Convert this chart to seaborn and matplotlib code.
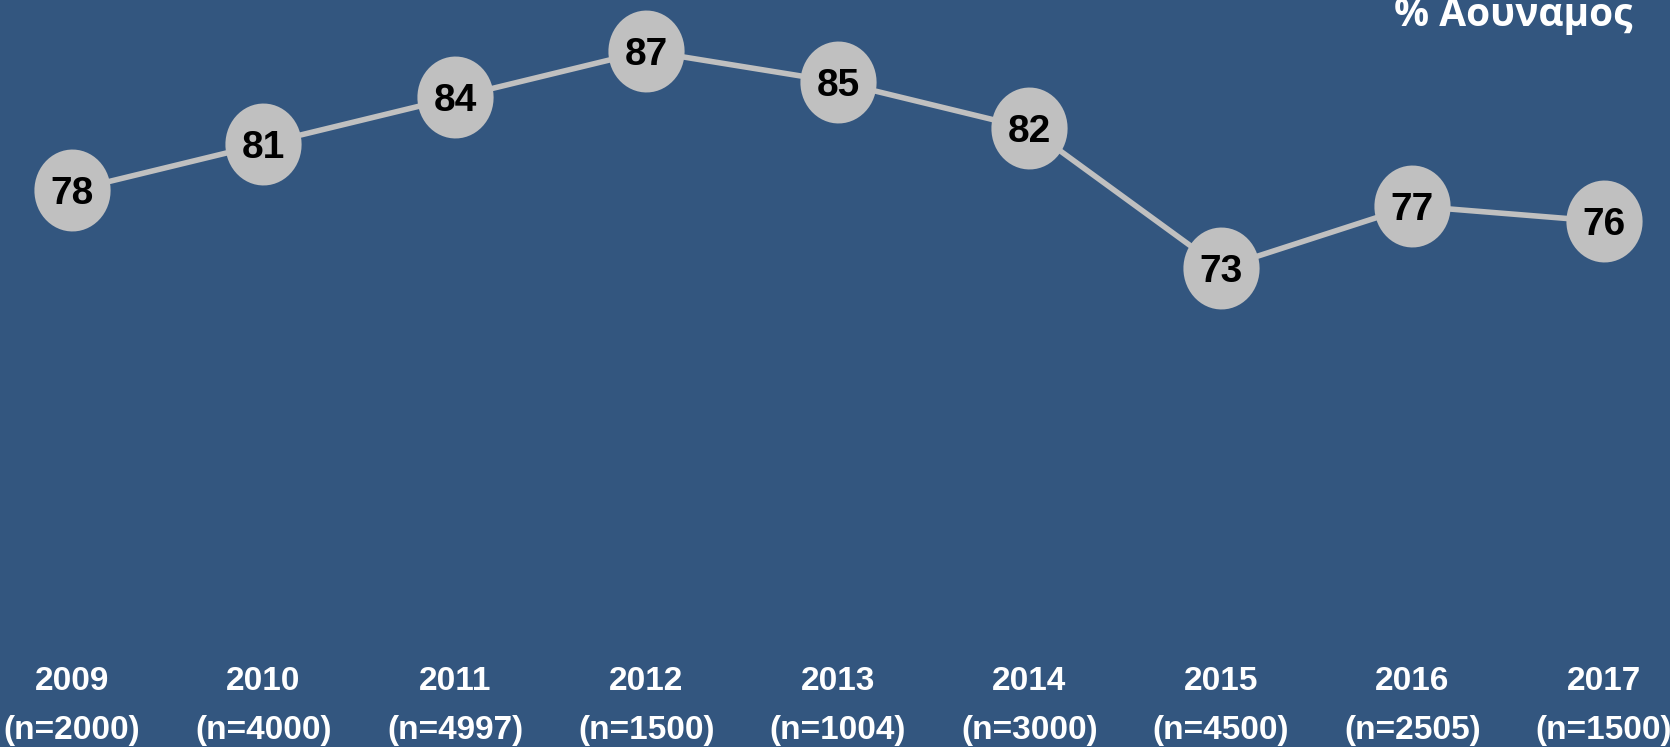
import matplotlib.pyplot as plt
import seaborn as sns
import numpy as np
from matplotlib.path import Path

# data
years = ['2009', '2010', '2011', '2012', '2013', '2014', '2015', '2016', '2017']
sample_sizes = ['(n=2000)', '(n=4000)', '(n=4997)', '(n=1500)', '(n=1004)',
                '(n=3000)', '(n=4500)', '(n=2505)', '(n=1500)']
pct_weak = [78, 81, 84, 87, 85, 82, 73, 77, 76]
title = '% Αουναμος'

bg = '#33567f'
grey = '#c0c0c0'

sns.set_style('white', {'axes.facecolor': bg, 'figure.facecolor': bg})
sans = ['Liberation Sans', 'DejaVu Sans']

fig = plt.figure(figsize=(16.7, 7.47), dpi=100)
ax = fig.add_axes([0, 0, 1, 1])

# slightly tall ellipse as marker
t = np.linspace(0, 2 * np.pi, 60)
ellipse = Path(np.column_stack([0.93 * np.cos(t), np.sin(t)]))

xpos = list(range(len(years)))
sns.lineplot(x=xpos, y=pct_weak, ax=ax, color=grey, linewidth=4,
             marker=ellipse, markersize=59, markeredgewidth=0,
             markerfacecolor=grey)

# value labels centred in the markers
for x, v in zip(xpos, pct_weak):
    ax.annotate(str(v), (x, v), xytext=(0, -10), textcoords='offset points',
                ha='center', va='baseline', fontsize=28, fontweight='bold',
                color='black', family=sans)

trans = ax.get_xaxis_transform()
for x, yr, n in zip(xpos, years, sample_sizes):
    ax.text(x, 1 - 682 / 747, yr, transform=trans, ha='center', va='center',
            fontsize=24, fontweight='bold', color='white', family=sans)
    ax.text(x, 1 - 730 / 747, n, transform=trans, ha='center', va='center',
            fontsize=24, fontweight='bold', color='white', family=sans)

fig.text(1632 / 1670, 1 - 26 / 747, title, ha='right', va='baseline',
         fontsize=28, fontweight='bold', color='white',
         family=['Open Sans', 'DejaVu Sans'])

ax.set_xlim(-72 / 191.5, (1670 - 72) / 191.5)
ax.set_ylim(73 - (747 - 268) / 15.5, 73 + 268 / 15.5)
ax.axis('off')

fig.savefig('out.png', dpi=100, facecolor=bg)
